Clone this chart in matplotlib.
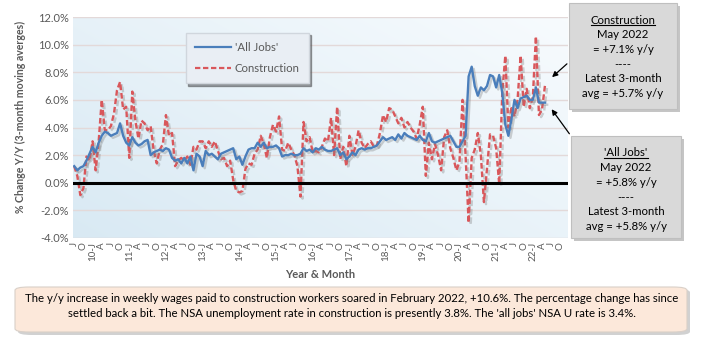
import matplotlib
matplotlib.use("Agg")
import matplotlib.pyplot as plt
import matplotlib.patheffects as pe
from matplotlib.patches import FancyBboxPatch, Rectangle
from matplotlib.lines import Line2D
import numpy as np

# Monthly data, July 2009 to May 2022 (y/y % change)
all_jobs = [
    1.2, 0.9, 1.1, 1.2, 1.6, 2.1,
    2.6, 2.2, 2.9, 3.4, 3.7, 3.6, 3.4, 3.5, 3.6, 4.3, 3.4, 2.9,
    2.7, 3.3, 2.9, 2.7, 2.8, 3.0, 3.1, 2.0, 2.2, 2.3, 2.4, 2.3,
    2.5, 2.4, 1.8, 1.6, 1.7, 1.4, 1.8, 1.4, 1.9, 0.9, 2.1, 1.9,
    1.2, 2.3, 2.0, 2.1, 1.9, 1.7, 2.1, 2.2, 2.3, 2.4, 2.5, 1.7,
    1.9, 1.3, 1.9, 2.4, 2.5, 2.5, 2.9, 2.6, 2.9, 2.5, 2.6, 2.6,
    2.7, 2.5, 1.9, 2.0, 2.0, 2.1, 2.0, 2.0, 2.1, 2.5, 2.3, 2.4,
    2.2, 2.5, 2.4, 2.6, 2.4, 2.3, 2.3, 2.4, 2.5, 2.0, 2.2, 1.7,
    1.9, 2.2, 2.0, 2.4, 2.5, 2.4, 2.5, 2.5, 2.6, 2.7, 3.0, 3.3,
    3.1, 3.2, 3.3, 3.1, 3.5, 3.2, 3.6, 3.4, 3.3, 3.2, 3.1, 3.4,
    3.1, 3.0, 3.6, 3.0, 2.9, 3.0, 3.1, 3.2, 3.3, 3.4, 3.0, 2.6,
    2.6, 3.0, 3.4, 7.7, 8.4, 7.0, 6.3, 6.9, 6.7, 7.0, 7.8, 7.7,
    6.9, 7.8, 6.5, 4.2, 3.4, 4.6, 6.0, 5.4, 6.1, 6.2, 6.3, 6.0,
    6.0, 6.9, 5.8, 5.8, 5.8,
]
construction = [
    1.2, 0.5, -0.9, -0.4, 1.9, 1.6,
    3.0, 0.9, 3.0, 6.0, 3.8, 3.8, 4.1, 5.0, 6.7, 7.3, 5.3, 5.5,
    1.8, 6.6, 4.5, 3.2, 4.5, 4.3, 3.8, 4.1, 2.3, 1.4, 2.4, 2.8,
    4.9, 3.4, 3.6, 1.2, 1.6, 1.8, 1.6, 1.9, 1.3, 2.6, 2.4, 3.0,
    3.0, 2.5, 3.0, 2.6, 3.0, 2.3, 1.7, 1.8, 1.2, 1.6, 0.2, -0.6,
    -0.7, -0.6, 1.0, 1.4, 1.3, 2.1, 2.4, 3.4, 2.8, 1.8, 3.3, 4.2,
    3.7, 4.8, 2.4, 2.3, 2.9, 2.4, 2.0, 1.2, -1.0, 4.4, 3.0, 3.3,
    2.2, 2.3, 2.2, 2.6, 3.2, 3.0, 4.7, 2.0, 5.5, 1.7, 2.6, 1.2,
    3.4, 2.0, 2.6, 3.8, 2.9, 2.5, 2.8, 3.0, 2.6, 2.7, 3.6, 4.9,
    4.4, 5.4, 5.3, 4.8, 4.3, 4.7, 4.0, 4.4, 4.0, 3.7, 3.2, 4.2,
    5.5, 0.5, 2.9, 1.7, 2.8, 2.0, 0.9, 3.3, 3.8, 2.5, 1.8, 0.9,
    1.5, 6.0, 2.0, -2.9, 1.8, 2.4, 3.6, 2.0, -1.4, 1.0, 3.5, 3.4,
    2.5, -0.1, 6.5, 9.2, 4.0, 5.4, 4.8, 6.0, 9.2, 5.5, 6.8, 5.4,
    6.2, 10.6, 4.9, 5.3, 7.1,
]

# category axis: July 2009 .. Dec 2022, labelled every quarter
n_slots = 162
tick_pos = list(range(0, 160, 3))
tick_labels = []
for i in tick_pos:
    m = (i + 6) % 12 + 1
    yr = 9 + (i + 6) // 12
    tick_labels.append({1: f"{yr:02d}-J", 4: "A", 7: "J", 10: "O"}[m])

y_ticks = np.arange(-4, 13, 2)
y_labels = [f"{v:.1f}%" for v in y_ticks]

construction_note = ["Construction", "May 2022", "= +7.1% y/y", "----",
                     "Latest 3-month", "avg = +5.7% y/y"]
all_jobs_note = ["'All Jobs'", "May 2022", "= +5.8% y/y", "----",
                 "Latest 3-month", "avg = +5.8% y/y"]
footer = ("The y/y increase in weekly wages paid to construction workers soared in February 2022, +10.6%. "
          "The percentage change has since\nsettled back a bit. The NSA unemployment rate in construction "
          "is presently 3.8%. The 'all jobs' NSA U rate is 3.4%.")

W, H = 701, 339
plt.rcParams["font.family"] = ["Lato", "DejaVu Sans"]
grey = "#595959"

fig = plt.figure(figsize=(W / 100, H / 100), dpi=100)
fig.patch.set_facecolor("white")

def fx(px):
    return px / W

def fy(py):
    return 1 - py / H

ax = fig.add_axes([fx(73), fy(238), fx(568) - fx(73), fy(17) - fy(238)])

# light blue gradient for the plot area
grad = np.linspace(0, 1, 256)
gx, gy = np.meshgrid(grad, grad)
g = 0.55 * gx + 0.45 * (1 - gy)
c0 = np.array([0.85, 0.915, 0.955])
c1 = np.array([0.97, 0.985, 0.995])
img = c0[None, None, :] * (1 - g[..., None]) + c1[None, None, :] * g[..., None]
ax.imshow(img, extent=[0, 1, 0, 1], transform=ax.transAxes, aspect="auto", zorder=0)

x = np.arange(len(all_jobs))
shadow = [pe.SimpleLineShadow(offset=(1.5, -1.5), shadow_color="#808080", alpha=0.35), pe.Normal()]
ax.plot(x, all_jobs, color="#4a7ebb", lw=1.7, label="'All Jobs'", zorder=4, path_effects=shadow)
ax.plot(x, construction, color="#d9575b", lw=1.7, linestyle=(0, (2.4, 1.2)),
        label="Construction", zorder=3, path_effects=shadow)
ax.axhline(0, color="black", lw=2.2, zorder=5)

ax.set_xlim(-0.4, n_slots - 0.5)
ax.set_ylim(-4, 12)
ax.set_yticks(y_ticks)
ax.set_yticklabels(y_labels, color=grey, fontsize=8)
ax.set_xticks(tick_pos)
ax.set_xticklabels(tick_labels, rotation=90, color=grey, fontsize=7)
ax.tick_params(length=0, pad=3)
ax.grid(axis="y", color="#e3d9d9", lw=1.0, zorder=1)
ax.set_axisbelow(True)
for s in ax.spines.values():
    s.set_visible(False)

ax.set_ylabel("% Change Y/Y (3-month moving averges)", color=grey, fontsize=7.6,
              fontweight="bold")
ax.yaxis.set_label_coords(-0.095, 0.55)
fig.text(fx(320), fy(275), "Year & Month", color=grey, fontsize=8, fontweight="bold",
         ha="center", va="center")

leg = ax.legend(loc="upper left", bbox_to_anchor=(fx(180), fy(27)), bbox_transform=fig.transFigure,
                frameon=True, fancybox=False, shadow=True, fontsize=8.2, labelcolor=grey,
                handlelength=3.2, borderpad=0.8, labelspacing=0.9, handletextpad=0.3)
leg.get_frame().set_facecolor("#e9eef4")
leg.get_frame().set_edgecolor("#d0d6dd")
for ln in leg.get_lines():
    ln.set_path_effects([])
    ln.set_linewidth(1.6)

def note_box(x0, y0, x1, y1, lines):
    sh = Rectangle((fx(x0 + 3), fy(y1 + 3)), fx(x1 - x0), fy(y0) - fy(y1),
                   transform=fig.transFigure, facecolor="#8c8c8c", alpha=0.5, edgecolor="none", zorder=1)
    fig.add_artist(sh)
    box = Rectangle((fx(x0), fy(y1)), fx(x1 - x0), fy(y0) - fy(y1),
                    transform=fig.transFigure, facecolor="#d9d9d9", edgecolor="#bfbfbf", lw=0.8, zorder=2)
    fig.add_artist(box)
    cx = (x0 + x1) / 2
    texts = []
    for k, ln in enumerate(lines):
        t = fig.text(fx(cx), fy(y0 + 17 + k * 14.7), ln, ha="center", va="center",
                     fontsize=8.2, color="black", zorder=3)
        texts.append(t)
    return texts

t1 = note_box(569, 3, 677, 109, construction_note)
t2 = note_box(571, 136, 681, 238, all_jobs_note)

ax.annotate("", xy=(fx(550), fy(79)), xycoords="figure fraction",
            xytext=(fx(569), fy(62)), textcoords="figure fraction",
            arrowprops=dict(arrowstyle="-|>", color="black", lw=0.9, mutation_scale=8))
ax.annotate("", xy=(fx(550), fy(107)), xycoords="figure fraction",
            xytext=(fx(571), fy(136)), textcoords="figure fraction",
            arrowprops=dict(arrowstyle="-|>", color="black", lw=0.9, mutation_scale=8))

# footer box
sh = FancyBboxPatch((fx(18), fy(335)), fx(672), fy(289) - fy(335), boxstyle="round,pad=0,rounding_size=0.02",
                    transform=fig.transFigure, facecolor="#999999", alpha=0.45, edgecolor="none",
                    mutation_aspect=H / W, zorder=1)
fig.add_artist(sh)
fb = FancyBboxPatch((fx(15), fy(332)), fx(672), fy(287) - fy(332), boxstyle="round,pad=0,rounding_size=0.02",
                    transform=fig.transFigure, facecolor="#fce8da", edgecolor="#d9d0c8", lw=0.8,
                    mutation_aspect=H / W, zorder=2)
fig.add_artist(fb)
fig.text(fx(352), fy(306), footer, ha="center", va="center", fontsize=8.2, color="black",
         linespacing=1.45, zorder=3)

# underline headings of the note boxes
fig.canvas.draw()
r = fig.canvas.get_renderer()
for t in (t1[0], t2[0]):
    bb = t.get_window_extent(r)
    yline = bb.y0 + 0.5
    fig.add_artist(Line2D([bb.x0 / W, bb.x1 / W], [yline / H, yline / H], color="black", lw=0.8,
                          transform=fig.transFigure, zorder=3))

fig.savefig("out.png", dpi=100)
